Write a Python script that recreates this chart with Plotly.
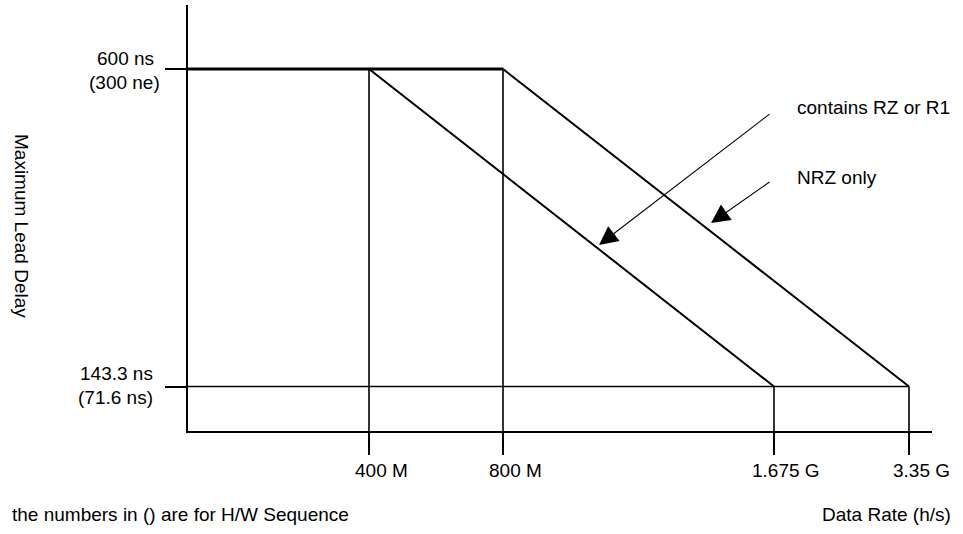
import plotly.graph_objects as go

# ---- data (schematic diagram) ----
rate_labels = ["400 M", "800 M", "1.675 G", "3.35 G"]
delay_max_ns = 600
delay_max_hw = "(300 ne)"
delay_min_ns = 143.3
delay_min_hw = "(71.6 ns)"
series_names = ["contains RZ or R1", "NRZ only"]

# schematic axis positions (diagram is not to scale)
rate_pos = [181, 315, 586, 721]
level_pos = {"max": 362, "min": 44.5}
X_RANGE = [0, 744]
Y_RANGE = [0, 426]

FONT = "Liberation Sans, Arial, Helvetica, sans-serif"
FS = 19

W, H = 963, 534
L, R, T, B = 188, 31, 5, 103

fig = go.Figure()

# RZ / R1 curve
fig.add_trace(go.Scatter(
    x=[0, rate_pos[0], rate_pos[2]],
    y=[level_pos["max"], level_pos["max"], level_pos["min"]],
    mode="lines", line=dict(color="black", width=2), name=series_names[0],
    hoverinfo="skip"))
# NRZ curve
fig.add_trace(go.Scatter(
    x=[0, rate_pos[1], rate_pos[3]],
    y=[level_pos["max"], level_pos["max"], level_pos["min"]],
    mode="lines", line=dict(color="black", width=2), name=series_names[1],
    hoverinfo="skip"))
# thick top plateau
fig.add_trace(go.Scatter(
    x=[0, rate_pos[1]], y=[level_pos["max"], level_pos["max"]],
    mode="lines", line=dict(color="black", width=3.2), hoverinfo="skip"))
# minimum level line
fig.add_trace(go.Scatter(
    x=[0, rate_pos[3]], y=[level_pos["min"], level_pos["min"]],
    mode="lines", line=dict(color="black", width=1.6), hoverinfo="skip"))
# vertical guide lines
for i, xp in enumerate(rate_pos):
    top = level_pos["max"] if i < 2 else level_pos["min"]
    fig.add_trace(go.Scatter(
        x=[xp, xp], y=[0, top], mode="lines",
        line=dict(color="black", width=1.6), hoverinfo="skip"))

def pxx(px):  # page pixel -> paper x
    return (px - L) / (W - L - R)
def pxy(py):  # page pixel -> paper y
    return ((H - py) - B) / (H - T - B)
def dx(px):   # page pixel -> data x
    return px - L
def dy(py):   # page pixel -> data y
    return (H - B) - py

ann = []
def text(txt, x, y, xanchor="center", **kw):
    ann.append(dict(x=pxx(x), y=pxy(y), xref="paper", yref="paper", text=txt,
                    showarrow=False, xanchor=xanchor, yanchor="middle",
                    font=dict(family=FONT, size=FS, color="black"), **kw))

# y level labels
text(f"{delay_max_ns:g} ns", 125, 58)
text(delay_max_hw, 124, 83)
text(f"{delay_min_ns:g} ns", 116, 373)
text(delay_min_hw, 115.5, 397)
# x rate labels
for lab, xp in zip(rate_labels, rate_pos):
    text(lab, xp + L + 12, 470)
# series labels
text(series_names[0], 795, 107, xanchor="left")
text(series_names[1], 795, 177, xanchor="left")
# axis titles and footnote
text("Maximum Lead Delay", 22, 226, textangle=90)
text("the numbers in () are for H/W Sequence", 10, 514, xanchor="left")
text("Data Rate (h/s)", 953, 514, xanchor="right")

# arrows
ann.append(dict(x=dx(599), y=dy(245), ax=dx(771), ay=dy(113),
                xref="x", yref="y", axref="x", ayref="y", text="", showarrow=True,
                arrowhead=2, arrowsize=3.4, arrowwidth=1.1, arrowcolor="black"))
ann.append(dict(x=dx(711), y=dy(223), ax=dx(771), ay=dy(181),
                xref="x", yref="y", axref="x", ayref="y", text="", showarrow=True,
                arrowhead=2, arrowsize=3.4, arrowwidth=1.1, arrowcolor="black"))

fig.update_layout(
    width=W, height=H,
    margin=dict(l=L, r=R, t=T, b=B, pad=0),
    paper_bgcolor="white", plot_bgcolor="white",
    showlegend=False,
    annotations=ann,
    xaxis=dict(range=X_RANGE, showgrid=False, zeroline=False, showline=True,
               linecolor="black", linewidth=2, ticks="outside", ticklen=22,
               tickwidth=1.6, tickcolor="black", tickvals=rate_pos,
               showticklabels=False, fixedrange=True),
    yaxis=dict(range=Y_RANGE, showgrid=False, zeroline=False, showline=True,
               linecolor="black", linewidth=2, ticks="outside", ticklen=21,
               tickwidth=1.6, tickcolor="black",
               tickvals=[level_pos["min"], level_pos["max"]],
               showticklabels=False, fixedrange=True),
)

fig.write_html("out.html", config={"displayModeBar": False},
               post_script="document.body.style.margin='0px';")
